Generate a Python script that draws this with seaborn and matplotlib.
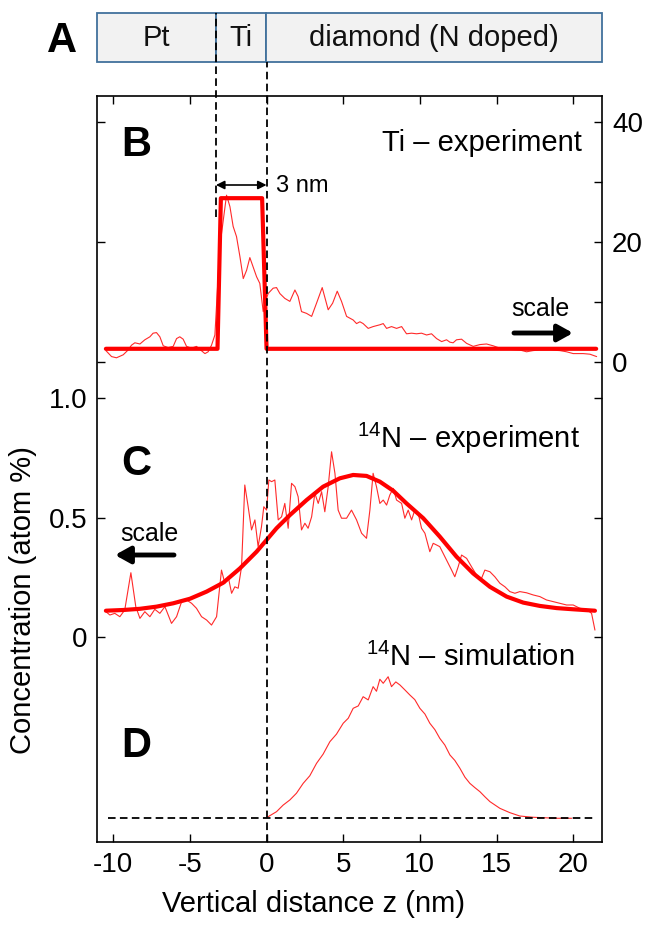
import matplotlib
matplotlib.use('Agg')
import matplotlib.pyplot as plt
import matplotlib.transforms as mtransforms
from matplotlib.lines import Line2D
from matplotlib.patches import Rectangle, FancyArrowPatch
import seaborn as sns

W, H = 645, 926

# layer boundaries (nm)
interfaces = [-3.3, 0.0]
layer_names = ['Pt', 'Ti', 'diamond (N doped)']

# B: Ti experiment (atom %) and box model
ti_z = [-10.48, -10.11, -9.79, -9.35, -9.03, -8.81, -8.59, -8.26, -7.94, -7.61, -7.40, -7.18,
        -6.96, -6.74, -6.42, -6.09, -5.87, -5.66, -5.44, -5.22, -4.89, -4.57, -4.35, -4.02,
        -3.81, -3.59, -3.37, -3.05, -2.61, -2.39, -2.18, -1.96, -1.74, -1.52, -1.30, -1.09,
        -0.87, -0.65, -0.44, -0.22, -0.11, 0.10, 0.43, 0.65, 0.87, 1.19, 1.52, 1.85, 2.06,
        2.28, 2.61, 2.94, 3.26, 3.63, 4.02, 4.31, 4.61, 4.89, 5.22, 5.65, 5.87, 6.09, 6.30,
        6.63, 6.95, 7.39, 7.61, 7.83, 8.15, 8.48, 8.81, 9.13, 9.46, 9.78, 10.11, 10.44, 10.76,
        11.09, 11.42, 11.74, 11.96, 12.17, 12.39, 12.72, 13.05, 13.48, 13.91, 14.35, 14.78,
        15.22, 15.87, 16.52, 16.96, 17.39, 17.83, 18.48, 19.13, 19.57, 20.0, 20.65, 21.09, 21.53]
ti_exp = [1.9, 0.9, 0.7, 1.2, 2.0, 2.8, 3.2, 3.0, 3.7, 4.2, 4.8, 4.9,
          4.2, 2.7, 2.4, 2.6, 3.9, 4.2, 3.8, 2.6, 2.3, 2.6, 2.1, 1.4,
          1.7, 2.8, 4.5, 19.2, 27.8, 25.9, 22.6, 20.9, 17.6, 13.9, 15.3, 17.4,
          15.8, 14.2, 13.1, 8.4, 9.8, 11.4, 12.3, 12.4, 11.4, 10.6, 10.1, 12.0, 10.9,
          8.4, 8.1, 7.6, 9.8, 12.4, 8.7, 9.8, 11.8, 10.1, 7.6, 7.0, 6.4, 6.7, 6.4,
          5.6, 5.9, 6.2, 6.4, 5.6, 5.9, 5.6, 5.9, 4.7, 4.8, 4.7, 4.8, 4.5, 4.7,
          3.9, 3.4, 3.7, 3.3, 3.2, 3.7, 3.8, 3.1, 2.6, 2.9, 3.0, 2.7,
          2.3, 2.1, 2.0, 1.7, 1.9, 2.0, 2.0, 1.9, 1.7, 1.4, 1.4, 1.3, 0.9]
ti_box_z = [-10.48, -3.2, -2.98, -0.29, 0.0, 21.5]
ti_box = [2.2, 2.2, 27.3, 27.3, 2.2, 2.2]

# C: 14N experiment (atom %) and fit
n_z = [-10.48, -10.22, -9.90, -9.57, -9.25, -8.85, -8.53, -8.26, -7.94, -7.61, -7.29, -6.96,
       -6.63, -6.20, -5.87, -5.54, -5.22, -4.89, -4.57, -4.24, -3.91, -3.59, -3.26, -2.94,
       -2.72, -2.50, -2.28, -2.07, -1.85, -1.63, -1.42, -1.20, -0.98, -0.76, -0.55, -0.33,
       -0.18, 0.0, 0.15, 0.33, 0.54, 0.76, 0.98, 1.19, 1.41, 1.63, 1.85, 2.06, 2.28, 2.50,
       2.71, 2.94, 3.15, 3.37, 3.59, 3.80, 4.02, 4.24, 4.46, 4.67, 4.89, 5.22, 5.54, 5.87,
       6.20, 6.52, 6.74, 6.95, 7.17, 7.39, 7.61, 7.83, 8.04, 8.26, 8.48, 8.81, 9.02, 9.24,
       9.46, 9.67, 9.89, 10.11, 10.33, 10.65, 10.87, 11.09, 11.30, 11.52, 11.85, 12.07,
       12.28, 12.50, 12.72, 13.05, 13.37, 13.70, 14.02, 14.24, 14.57, 14.89, 15.22, 15.55,
       15.87, 16.20, 16.52, 16.96, 17.39, 17.83, 18.26, 18.70, 19.13, 19.57, 20.0, 20.44,
       20.87, 21.20, 21.42]
n_exp = [0.106, 0.092, 0.099, 0.085, 0.113, 0.269, 0.127, 0.078, 0.106, 0.085, 0.116, 0.099,
         0.127, 0.057, 0.085, 0.148, 0.155, 0.141, 0.120, 0.085, 0.071, 0.050, 0.085, 0.280,
         0.225, 0.252, 0.183, 0.210, 0.204, 0.294, 0.636, 0.545, 0.448, 0.490, 0.378, 0.462,
         0.545, 0.531, 0.657, 0.650, 0.657, 0.490, 0.503, 0.559, 0.455, 0.643, 0.629, 0.587,
         0.448, 0.476, 0.455, 0.503, 0.601, 0.559, 0.608, 0.524, 0.629, 0.775, 0.685, 0.531,
         0.497, 0.497, 0.531, 0.490, 0.434, 0.413, 0.531, 0.685, 0.629, 0.559, 0.573, 0.552,
         0.594, 0.622, 0.573, 0.559, 0.497, 0.531, 0.490, 0.531, 0.518, 0.455, 0.434, 0.357,
         0.392, 0.385, 0.378, 0.350, 0.308, 0.280, 0.252, 0.294, 0.343, 0.329, 0.294, 0.259,
         0.245, 0.280, 0.273, 0.252, 0.225, 0.210, 0.190, 0.183, 0.190, 0.185, 0.176, 0.169,
         0.155, 0.148, 0.141, 0.134, 0.134, 0.120, 0.116, 0.099, 0.029]
fit_z = [-10.48, -9.35, -8.26, -7.18, -6.09, -5.00, -3.91, -2.83, -1.74, -0.65, 0.0, 0.65,
         1.52, 2.61, 3.69, 4.78, 5.65, 6.52, 7.39, 8.26, 9.13, 10.22, 11.30, 12.39, 13.48,
         14.57, 15.66, 16.74, 17.83, 18.92, 20.0, 21.42]
fit_c = [0.110, 0.113, 0.118, 0.127, 0.141, 0.160, 0.190, 0.227, 0.287, 0.357, 0.406, 0.455,
         0.510, 0.573, 0.629, 0.664, 0.678, 0.674, 0.650, 0.612, 0.559, 0.497, 0.420, 0.336,
         0.266, 0.210, 0.169, 0.144, 0.130, 0.121, 0.116, 0.110]

# D: 14N simulation (arb. units)
sim_z = [0.10, 0.65, 1.08, 1.52, 1.95, 2.39, 2.82, 3.26, 3.69, 4.13, 4.56, 5.00, 5.33, 5.65,
         5.98, 6.30, 6.63, 6.95, 7.17, 7.39, 7.61, 7.93, 8.15, 8.43, 8.70, 9.02, 9.35, 9.67,
         10.0, 10.33, 10.65, 10.98, 11.30, 11.63, 11.96, 12.28, 12.61, 12.94, 13.26, 13.59,
         13.92, 14.24, 14.57, 15.22, 15.87, 16.52, 17.39, 18.92, 19.90]
sim = [0.007, 0.043, 0.090, 0.127, 0.175, 0.246, 0.300, 0.389, 0.455, 0.544, 0.598, 0.676,
       0.712, 0.783, 0.800, 0.866, 0.843, 0.938, 0.905, 0.991, 0.962, 1.009, 0.938, 0.972,
       0.950, 0.915, 0.878, 0.845, 0.783, 0.742, 0.676, 0.630, 0.568, 0.520, 0.449, 0.410,
       0.354, 0.290, 0.246, 0.215, 0.186, 0.150, 0.115, 0.067, 0.036, 0.012, 0.003, -0.004,
       -0.004]
sim_base_z = [-10.35, 21.4]

x_ticks = [-10, -5, 0, 5, 10, 15, 20]
c_ticks = [0, 0.5, 1.0]
c_tick_labels = ['0', '0.5', '1.0']
ti_ticks = [0, 20, 40]
ti_minor = [10, 30]

sns.set_theme(style='white')
plt.rcParams['font.family'] = ['Liberation Sans', 'DejaVu Sans']
plt.rcParams['mathtext.fontset'] = 'custom'
plt.rcParams['mathtext.rm'] = 'Liberation Sans'
plt.rcParams['mathtext.default'] = 'regular'
plt.rcParams['text.color'] = 'black'
plt.rcParams['axes.labelcolor'] = 'black'
plt.rcParams['xtick.color'] = 'black'
plt.rcParams['ytick.color'] = 'black'


def fx(x):
    return x / W


def fy(y):
    return 1 - y / H


RED = '#ff0000'
THIN = '#ff2a2a'
BLUE = '#41719c'
DASH = (0, (4.2, 2.4))

fig = plt.figure(figsize=(W / 100, H / 100), dpi=100)
ax = fig.add_axes([fx(97), fy(842), fx(602.3) - fx(97), fy(96) - fy(842)])
ax2 = ax.twinx()
ax3 = ax.twinx()

xlim = (-11.06, 21.9)
for a in (ax, ax2, ax3):
    a.set_xlim(*xlim)
ax.set_ylim(-0.8577, 2.2636)
ax2.set_ylim(-80, 44.33)
ax3.set_ylim(-0.174, 5.166)
ax3.axis('off')

# B
sns.lineplot(x=ti_z, y=ti_exp, ax=ax2, color=THIN, lw=0.8, sort=False, estimator=None)
sns.lineplot(x=ti_box_z, y=ti_box, ax=ax2, color=RED, lw=3.0, sort=False, estimator=None)
# C
sns.lineplot(x=n_z, y=n_exp, ax=ax, color=THIN, lw=0.8, sort=False, estimator=None)
sns.lineplot(x=fit_z, y=fit_c, ax=ax, color=RED, lw=3.0, sort=False, estimator=None)
# D
sns.lineplot(x=sim_z, y=sim, ax=ax3, color=THIN, lw=0.8, sort=False, estimator=None)
ax3.plot(sim_base_z, [0, 0], color='black', lw=1.3, ls=DASH)

# axes styling
for s in ax.spines.values():
    s.set_color('black')
    s.set_linewidth(1.2)
for s in ax2.spines.values():
    s.set_visible(False)

ax.set_xticks(x_ticks)
ax.set_xticklabels([str(t) for t in x_ticks])
ax.set_yticks(c_ticks)
ax.set_yticklabels(c_tick_labels)
ax.tick_params(axis='both', direction='in', length=6, width=1.0, colors='black',
               labelsize=20, top=True, bottom=True, left=True, right=True, pad=7)
ax2.set_yticks(ti_ticks)
ax2.set_yticks(ti_minor, minor=True)
ax2.set_yticklabels([str(t) for t in ti_ticks])
ax2.tick_params(axis='y', which='major', direction='in', length=6, width=1.0, colors='black',
                labelsize=20, left=True, right=True, labelleft=False, labelright=True, pad=7)
ax2.tick_params(axis='y', which='minor', direction='in', length=6, width=1.0, colors='black',
                left=False, right=True)
ax2.grid(False)
ax.grid(False)
ax.set_xlabel('Vertical distance z (nm)', fontsize=21)
ax.xaxis.set_label_coords((313 - 97) / (602.3 - 97), -(890 - 842) / 746, transform=ax.transAxes)
ax.set_ylabel('Concentration (atom %)', fontsize=21)
ax.yaxis.set_label_coords(-(97 - 37) / (602.3 - 97), (842 - 600) / 746, transform=ax.transAxes)
ax2.set_ylabel('')
ax3.set_ylabel('')

# panel A: layer stack
axA = fig.add_axes([fx(96.7), fy(62.3), fx(602.3) - fx(96.7), fy(13.3) - fy(62.3)])
axA.set_xlim(*xlim)
axA.set_ylim(0, 1)
axA.axis('off')
edges = [xlim[0]] + interfaces + [xlim[1]]
for i, name in enumerate(layer_names):
    axA.add_patch(Rectangle((edges[i], 0), edges[i + 1] - edges[i], 1, facecolor='#f2f2f2',
                            edgecolor=BLUE, lw=1.3, clip_on=False))
    axA.text((edges[i] + edges[i + 1]) / 2, 0.5, name, ha='center', va='center',
             fontsize=21, color='#111111')

# dashed interface lines across figure
blend = mtransforms.blended_transform_factory(ax.transData, fig.transFigure)
fig.add_artist(Line2D([interfaces[0]] * 2, [fy(217), fy(13.3)], transform=blend,
                      color='black', lw=1.3, ls=DASH))
fig.add_artist(Line2D([interfaces[1]] * 2, [fy(842), fy(62.3)], transform=blend,
                      color='black', lw=1.3, ls=DASH))

# letters
fig.text(fx(62), fy(41), 'A', fontsize=30, fontweight='bold', ha='center', va='center')
for lab, yy in (('B', 145), ('C', 464), ('D', 746)):
    fig.text(fx(121), fy(yy), lab, fontsize=30, fontweight='bold', ha='left', va='center')

fig.text(fx(582), fy(143), 'Ti – experiment', fontsize=21, ha='right', va='center')
fig.text(fx(580), fy(438), r'$^{14}$N – experiment', fontsize=21, ha='right', va='center')
fig.text(fx(574), fy(657), r'$^{14}$N – simulation', fontsize=21, ha='right', va='center')

# 3 nm
fig.add_artist(FancyArrowPatch(
    (interfaces[0], fy(185)), (interfaces[1], fy(185)), transform=blend,
    arrowstyle='<|-|>,head_length=5,head_width=2.5', color='black', lw=1.2,
    shrinkA=0, shrinkB=0))
fig.text(fx(276), fy(186), '3 nm', fontsize=17, ha='left', va='center')

# scale arrows
fig.text(fx(540), fy(309), 'scale', fontsize=18, ha='center', va='center')
fig.add_artist(FancyArrowPatch(
    (fx(514), fy(333)), (fx(573), fy(333)), transform=fig.transFigure,
    arrowstyle='-|>,head_length=9,head_width=5', color='black', lw=3.5,
    shrinkA=0, shrinkB=0))
fig.text(fx(149), fy(534), 'scale', fontsize=18, ha='center', va='center')
fig.add_artist(FancyArrowPatch(
    (fx(174), fy(555)), (fx(115), fy(555)), transform=fig.transFigure,
    arrowstyle='-|>,head_length=9,head_width=5', color='black', lw=3.5,
    shrinkA=0, shrinkB=0))

fig.savefig('out.png', dpi=100)
